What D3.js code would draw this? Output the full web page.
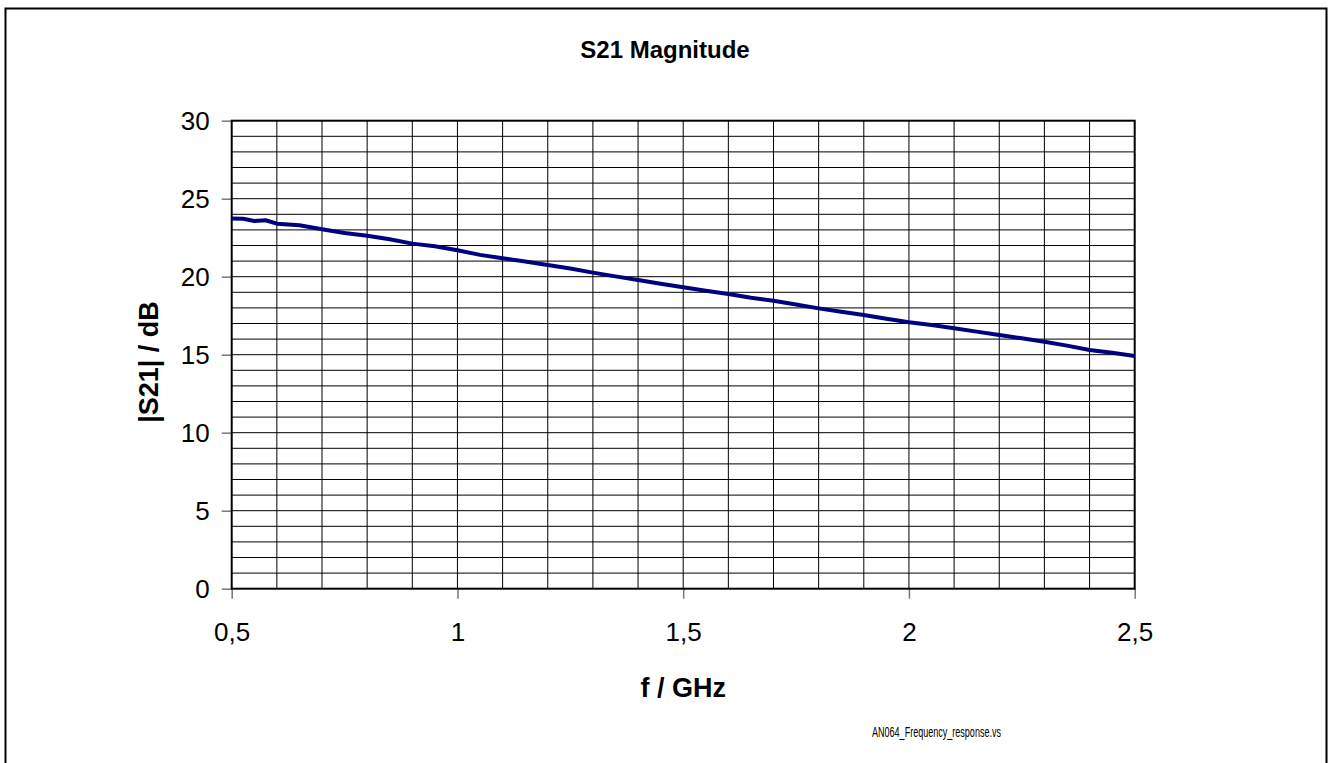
<!DOCTYPE html>
<html>
<head>
<meta charset="utf-8">
<script src="https://cdn.jsdelivr.net/npm/d3@7"></script>
<style>
  body { margin: 0; background: #fff; }
  text { font-family: "Liberation Sans", Arial, sans-serif; fill: #000; }
</style>
</head>
<body>
<svg width="1330" height="763"></svg>
<script>
const freq = [0.5, 0.525, 0.55, 0.575, 0.6, 0.65, 0.7, 0.75, 0.8, 0.85, 0.9, 0.95,
  1.0, 1.05, 1.1, 1.15, 1.2, 1.25, 1.3, 1.35, 1.4, 1.45, 1.5, 1.55, 1.6, 1.65,
  1.7, 1.75, 1.8, 1.85, 1.9, 1.95, 2.0, 2.05, 2.1, 2.15, 2.2, 2.25, 2.3, 2.35,
  2.4, 2.45, 2.5];
const s21 = [23.73, 23.72, 23.57, 23.62, 23.40, 23.30, 23.04, 22.80, 22.63, 22.40, 22.12, 21.95,
  21.70, 21.40, 21.18, 20.98, 20.75, 20.52, 20.26, 20.02, 19.79, 19.55, 19.32, 19.10, 18.89, 18.65,
  18.46, 18.22, 17.97, 17.75, 17.54, 17.30, 17.08, 16.90, 16.69, 16.48, 16.26, 16.05, 15.83, 15.58,
  15.30, 15.12, 14.92];

// tick labels use a decimal comma
const xTicks = [0.5, 1, 1.5, 2, 2.5];
const xTickLabels = ["0,5", "1", "1,5", "2", "2,5"];
const yTicks = [0, 5, 10, 15, 20, 25, 30];

const svg = d3.select("svg");

// plot area
const pLeft = 231.7, pRight = 1134.7, pTop = 120.7, pBottom = 588.7;

const x = d3.scaleLinear().domain([0.5, 2.5]).range([pLeft, pRight]);
const y = d3.scaleLinear().domain([0, 30]).range([pBottom, pTop]);

// outer frame (bottom edge runs off the page)
svg.append("path")
  .attr("d", "M5.5,770V8.5H1326.5V770")
  .attr("fill", "none")
  .attr("stroke", "#000")
  .attr("stroke-width", 2);

// title, centred on the whole frame
svg.append("text")
  .attr("x", 665)
  .attr("y", 58)
  .attr("text-anchor", "middle")
  .attr("font-size", 24)
  .attr("font-weight", "bold")
  .text("S21 Magnitude");

// grid: every 1 dB and every 0.1 GHz
const grid = svg.append("g").attr("stroke", "#000").attr("stroke-width", 1);
grid.selectAll(".h")
  .data(d3.range(1, 30))
  .enter().append("line")
    .attr("x1", pLeft).attr("x2", pRight)
    .attr("y1", d => y(d)).attr("y2", d => y(d));
grid.selectAll(".v")
  .data(d3.range(1, 20).map(i => 0.5 + i * 0.1))
  .enter().append("line")
    .attr("y1", pTop).attr("y2", pBottom)
    .attr("x1", d => x(d)).attr("x2", d => x(d));

// y axis
const yAxis = svg.append("g")
  .attr("transform", "translate(" + pLeft + ",0)")
  .call(d3.axisLeft(y).tickValues(yTicks).tickSize(10).tickPadding(12));
yAxis.select(".domain").remove();
yAxis.selectAll("line").attr("stroke", "#777").attr("stroke-width", 1.5);
yAxis.selectAll("text").attr("font-size", 26).attr("font-family", "Liberation Sans, Arial, sans-serif");

// x axis
const xAxis = svg.append("g")
  .attr("transform", "translate(0," + pBottom + ")")
  .call(d3.axisBottom(x).tickValues(xTicks).tickSize(10).tickPadding(24)
    .tickFormat((d, i) => xTickLabels[i]));
xAxis.select(".domain").remove();
xAxis.selectAll("line").attr("stroke", "#777").attr("stroke-width", 1.5);
xAxis.selectAll("text").attr("font-size", 26).attr("font-family", "Liberation Sans, Arial, sans-serif");

// plot border
svg.append("rect")
  .attr("x", pLeft).attr("y", pTop)
  .attr("width", pRight - pLeft).attr("height", pBottom - pTop)
  .attr("fill", "none")
  .attr("stroke", "#000")
  .attr("stroke-width", 2);

// the S21 curve
const line = d3.line()
  .x((d, i) => x(freq[i]))
  .y(d => y(d));
svg.append("path")
  .datum(s21)
  .attr("d", line)
  .attr("fill", "none")
  .attr("stroke", "#000080")
  .attr("stroke-width", 4)
  .attr("stroke-linejoin", "round");

// axis titles
svg.append("text")
  .attr("x", (pLeft + pRight) / 2)
  .attr("y", 697)
  .attr("text-anchor", "middle")
  .attr("font-size", 27)
  .attr("font-weight", "bold")
  .text("f / GHz");

svg.append("text")
  .attr("transform", "translate(158,362) rotate(-90)")
  .attr("text-anchor", "middle")
  .attr("font-size", 27)
  .attr("font-weight", "bold")
  .text("|S21| / dB");

// file name in the corner, clipped like the original
svg.append("clipPath").attr("id", "fn")
  .append("rect").attr("x", 0).attr("y", 0).attr("width", 1001).attr("height", 763);
svg.append("text")
  .attr("clip-path", "url(#fn)")
  .attr("x", 872)
  .attr("y", 737)
  .attr("font-size", 14)
  .attr("textLength", 134)
  .attr("lengthAdjust", "spacingAndGlyphs")
  .text("AN064_Frequency_response.vsd");
</script>
</body>
</html>
